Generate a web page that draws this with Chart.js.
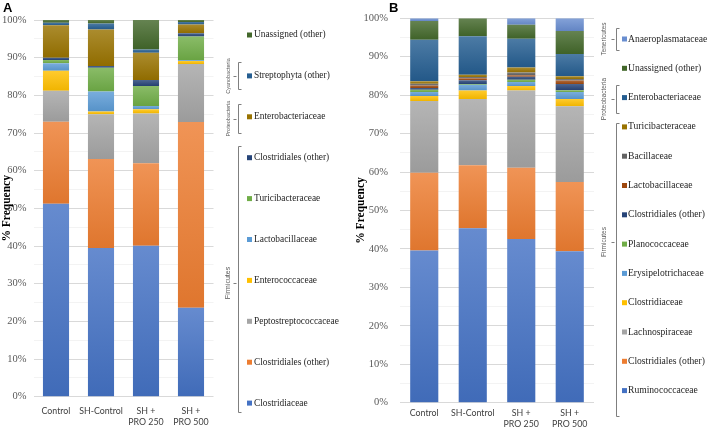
<!DOCTYPE html>
<html><head><meta charset="utf-8">
<script src="https://cdn.jsdelivr.net/npm/chart.js@4.4.1/dist/chart.umd.min.js"></script>
<style>
html,body{margin:0;padding:0;background:#fff;}
#wrap{position:relative;width:708px;height:428px;overflow:hidden;background:#fff;}
#wrapA{position:absolute;left:0;top:0;width:354px;height:428px;}
#wrapB{position:absolute;left:354px;top:0;width:354px;height:428px;}
</style></head>
<body>
<div id="wrap">
  <div id="wrapA"><canvas id="cA" width="354" height="428"></canvas></div>
  <div id="wrapB"><canvas id="cB" width="354" height="428"></canvas></div>
</div>
<script>
// ---------- categories ----------
const groups = ["Control", "SH-Control", ["SH +", "PRO 250"], ["SH +", "PRO 500"]];

// ---------- Panel A (bottom -> top), % frequency ----------
const namesA = ["Clostridiaceae", "Clostridiales (other)", "Peptostreptococcaceae", "Enterococcaceae",
  "Lactobacillaceae", "Turicibacteraceae", "Clostridiales (other)", "Enterobacteriaceae",
  "Streptophyta (other)", "Unassigned (other)"];
const A_Clostridiaceae        = [51.2, 39.5, 40.1, 23.6];
const A_ClostridialesOther    = [21.8, 23.6, 21.9, 49.3];
const A_Peptostreptococcaceae = [8.2, 11.9, 13.2, 15.4];
const A_Enterococcaceae       = [5.3, 0.7, 1.1, 0.8];
const A_Lactobacillaceae      = [2.0, 5.3, 0.9, 0.2];
const A_Turicibacteraceae     = [0.9, 6.3, 5.3, 6.3];
const A_ClostridialesOther2   = [0.6, 0.5, 1.6, 0.9];
const A_Enterobacteriaceae    = [8.6, 9.7, 7.2, 2.3];
const A_Streptophyta          = [0.7, 1.6, 0.9, 0.7];
const A_Unassigned            = [0.7, 0.9, 7.8, 0.5];
const colorsA = ["#4472C4", "#ED7D31", "#A5A5A5", "#FFC000", "#5B9BD5", "#70AD47", "#264478", "#997300", "#255E91", "#43682B"];

// ---------- Panel B (bottom -> top), % frequency ----------
const namesB = ["Ruminococcaceae", "Clostridiales (other)", "Lachnospiraceae", "Clostridiaceae",
  "Erysipelotrichaceae", "Planococcaceae", "Clostridiales (other)", "Lactobacillaceae", "Bacillaceae",
  "Turicibacteraceae", "Enterobacteriaceae", "Unassigned (other)", "Anaeroplasmataceae"];
const B_Ruminococcaceae     = [39.6, 45.4, 42.6, 39.4];
const B_ClostridialesOther  = [20.2, 16.4, 18.5, 18.0];
const B_Lachnospiraceae     = [18.7, 17.2, 20.1, 19.7];
const B_Clostridiaceae      = [1.3, 2.2, 1.2, 1.9];
const B_Erysipelotrichaceae = [1.0, 1.5, 1.0, 1.8];
const B_Planococcaceae      = [0.6, 0.2, 0.6, 0.5];
const B_ClostridialesOther2 = [0.5, 1.0, 0.8, 1.6];
const B_Lactobacillaceae    = [0.6, 0.5, 0.4, 0.9];
const B_Bacillaceae         = [0.5, 0.3, 0.7, 0.4];
const B_Turicibacteraceae   = [0.6, 0.6, 1.3, 0.7];
const B_Enterobacteriaceae  = [10.8, 10.0, 7.5, 5.8];
const B_Unassigned          = [4.9, 4.7, 3.6, 6.0];
const B_Anaeroplasmataceae  = [0.7, 0.0, 1.7, 3.3];
const colorsB = ["#4472C4", "#ED7D31", "#A5A5A5", "#FFC000", "#5B9BD5", "#70AD47", "#264478", "#9E480E", "#636363", "#997300", "#255E91", "#43682B", "#698ED0"];

// ---------- tick labels ----------
const yTickStep = 10;

const seriesA = [A_Clostridiaceae, A_ClostridialesOther, A_Peptostreptococcaceae, A_Enterococcaceae,
  A_Lactobacillaceae, A_Turicibacteraceae, A_ClostridialesOther2, A_Enterobacteriaceae, A_Streptophyta, A_Unassigned];
const seriesB = [B_Ruminococcaceae, B_ClostridialesOther, B_Lachnospiraceae, B_Clostridiaceae,
  B_Erysipelotrichaceae, B_Planococcaceae, B_ClostridialesOther2, B_Lactobacillaceae, B_Bacillaceae,
  B_Turicibacteraceae, B_Enterobacteriaceae, B_Unassigned, B_Anaeroplasmataceae];

function hexToRgb(h) { const n = parseInt(h.slice(1), 16); return [(n >> 16) & 255, (n >> 8) & 255, n & 255]; }
function mix(h, w, t) {
  const a = hexToRgb(h), b = hexToRgb(w);
  return 'rgb(' + a.map((v, i) => Math.round(v + (b[i] - v) * t)).join(',') + ')';
}
function makeFill(base) {
  return function (ctx) {
    if (ctx.type !== 'data') return base;
    const chart = ctx.chart;
    const y = chart.scales && chart.scales.y;
    if (!chart.chartArea || !y) return base;
    const ds = chart.data.datasets;
    let start = 0;
    for (let k = 0; k < ctx.datasetIndex; k++) start += ds[k].data[ctx.dataIndex] || 0;
    const end = start + (ds[ctx.datasetIndex].data[ctx.dataIndex] || 0);
    const y0 = y.getPixelForValue(end), y1 = y.getPixelForValue(start);
    if (!isFinite(y0) || !isFinite(y1) || y1 - y0 < 1) return base;
    const g = chart.ctx.createLinearGradient(0, y0, 0, y1);
    g.addColorStop(0, mix(base, '#FFFFFF', 0.18));
    g.addColorStop(1, mix(base, '#000000', 0.06));
    return g;
  };
}

function makeDecor(lay) {
  return {
    id: 'decor',
    afterDraw(chart) {
      const ctx = chart.ctx;
      ctx.save();
      const ds = chart.data.datasets, n = ds.length;
      ctx.font = lay.legendFont;
      ctx.textBaseline = 'middle';
      ctx.textAlign = 'left';
      for (let j = 0; j < n; j++) {
        const d = ds[n - 1 - j];
        const y = lay.legendTop + j * lay.legendStep;
        ctx.fillStyle = d.baseColor;
        ctx.fillRect(lay.boxX, y - 2.5, 5, 5);
        ctx.fillStyle = '#262626';
        ctx.fillText(d.label, lay.textX, y);
      }
      ctx.strokeStyle = '#7F7F7F';
      ctx.lineWidth = 1;
      lay.brackets.forEach(b => {
        const x = lay.bracketX + 0.5;
        const mid = Math.round(b.mid) + 0.5;
        ctx.beginPath();
        ctx.moveTo(x + 3, b.y1 + 0.5); ctx.lineTo(x, b.y1 + 0.5);
        ctx.lineTo(x, b.y2 + 0.5); ctx.lineTo(x + 3, b.y2 + 0.5);
        ctx.moveTo(x - 2, mid); ctx.lineTo(x - 5, mid);
        ctx.stroke();
        ctx.save();
        ctx.translate(lay.phylumX, b.mid);
        ctx.rotate(-Math.PI / 2);
        ctx.font = b.font;
        ctx.fillStyle = '#595959';
        ctx.textAlign = 'center';
        ctx.textBaseline = 'middle';
        ctx.fillText(b.label, 0, 0);
        ctx.restore();
      });
      ctx.font = 'bold 13px "Liberation Sans"';
      ctx.fillStyle = '#000';
      ctx.textAlign = 'left';
      ctx.textBaseline = 'top';
      ctx.fillText(lay.letter, lay.letterX, lay.letterY);
      ctx.restore();
    }
  };
}

function buildChart(canvasId, names, series, colors, lay) {
  const datasets = names.map((nm, i) => ({
    label: nm, data: series[i], baseColor: colors[i],
    backgroundColor: makeFill(colors[i]), borderWidth: 0,
    barPercentage: 0.58, categoryPercentage: 1
  }));
  return new Chart(document.getElementById(canvasId), {
    type: 'bar',
    data: { labels: groups, datasets },
    options: {
      responsive: false, animation: false, devicePixelRatio: 1,
      layout: { padding: { left: 0, right: lay.padRight, top: lay.padTop, bottom: 0 } },
      plugins: { legend: { display: false }, tooltip: { enabled: false } },
      scales: {
        x: {
          stacked: true, grid: { display: false, drawTicks: false }, border: { display: false },
          ticks: { font: { family: 'Lato', size: 8.8, lineHeight: 1.25 }, color: '#404040', padding: lay.xPad, maxRotation: 0, autoSkip: false },
          afterFit: s => { s.height = lay.xHeight; }
        },
        y: {
          stacked: true, min: 0, max: 100, border: { display: false },
          grid: { drawTicks: false, color: c => (c.tick && c.tick.value % yTickStep === 0) ? '#D9D9D9' : '#F3F3F3' },
          ticks: { stepSize: yTickStep / 2, autoSkip: false, padding: lay.yPad, color: '#595959',
            font: { family: 'Liberation Serif', size: 10.5 },
            callback: v => (v % yTickStep === 0 ? v + '%' : '') },
          title: { display: true, text: '% Frequency', color: '#000', padding: 0,
            font: { family: 'Liberation Serif', size: 11.5, weight: 'bold' } },
          afterFit: s => { s.width = lay.yWidth; }
        }
      }
    },
    plugins: [makeDecor(lay)]
  });
}

buildChart('cA', namesA, seriesA, colorsA, {
  padRight: 140.5, padTop: 20, xHeight: 31.3, yWidth: 33.5, yPad: 7, xPad: 8.5,
  legendTop: 35, legendStep: 40.9, boxX: 247, textX: 254, legendFont: '9.4px "Liberation Serif"',
  bracketX: 238, phylumX: 228.5,
  brackets: [
    { label: 'Cyanobacteria', y1: 62, y2: 89, mid: 76, font: '5.5px "Liberation Sans"' },
    { label: 'Proteobacteria', y1: 104, y2: 133, mid: 118.5, font: '5.5px "Liberation Sans"' },
    { label: 'Firmicutes', y1: 146, y2: 412, mid: 283, font: '7px "Liberation Sans"' }
  ],
  letter: 'A', letterX: 3, letterY: 2
});

buildChart('cB', namesB, seriesB, colorsB, {
  padRight: 114, padTop: 16.7, xHeight: 25.3, yWidth: 46, yPad: 12, xPad: 5,
  legendTop: 39, legendStep: 29.3, boxX: 268, textX: 274, legendFont: '9.6px "Liberation Serif"',
  bracketX: 262, phylumX: 250,
  brackets: [
    { label: 'Tenericutes', y1: 28, y2: 50, mid: 39, font: '6.5px "Liberation Sans"' },
    { label: 'Proteobacteria', y1: 85, y2: 113, mid: 99, font: '6.5px "Liberation Sans"' },
    { label: 'Firmicutes', y1: 123, y2: 416, mid: 242, font: '6.5px "Liberation Sans"' }
  ],
  letter: 'B', letterX: 35, letterY: 2
});
</script>
</body></html>
